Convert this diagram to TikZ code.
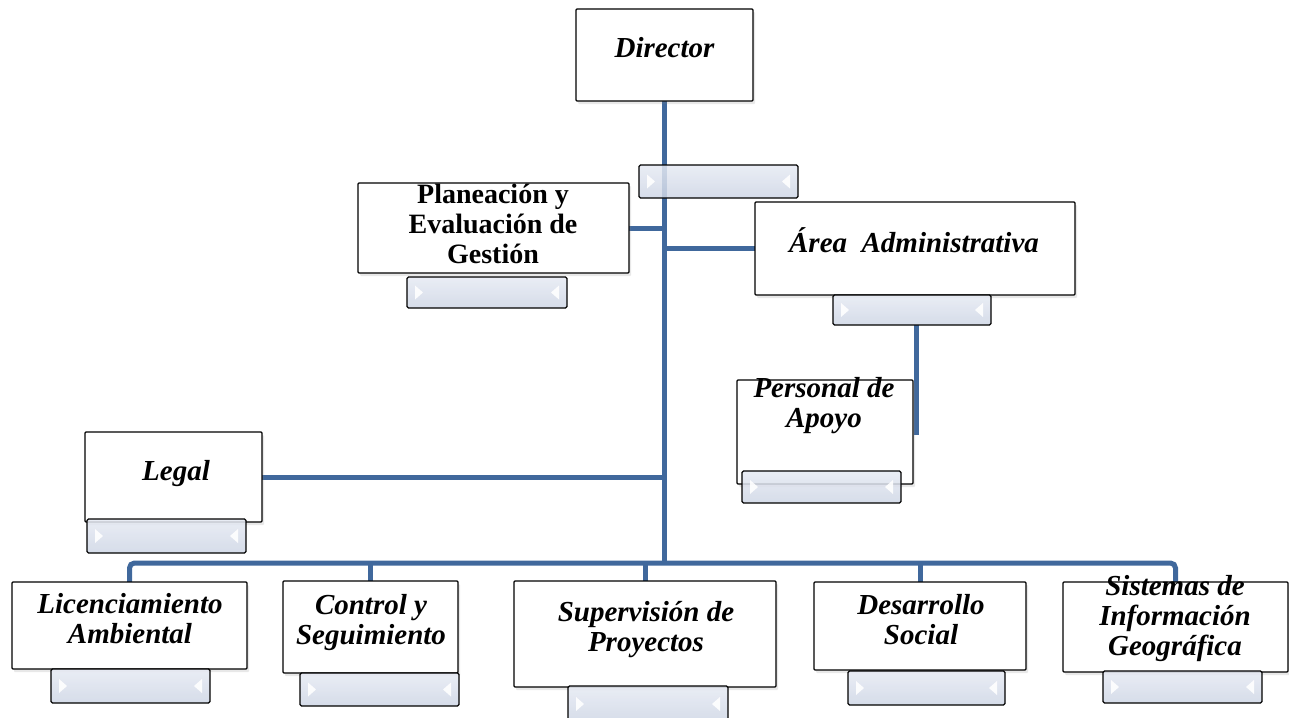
\documentclass[tikz,border=0pt]{standalone}
\usepackage{fontspec}
\setmainfont{Liberation Serif}
\usetikzlibrary{shadows,backgrounds}
\definecolor{linecol}{RGB}{64,104,156}
\definecolor{bartop}{RGB}{230,234,243}
\definecolor{barbot}{RGB}{206,214,229}
\tikzset{
  obox/.style={draw=black, line width=1.3pt, fill=white, rounded corners=1pt,
    inner sep=0pt, outer sep=0pt,
    drop shadow={shadow xshift=2pt, shadow yshift=-3pt, opacity=0.18}},
  ribbonbox/.style={draw=black, line width=1.3pt, top color=bartop, bottom color=barbot,
    rounded corners=1.5pt, inner sep=0pt, outer sep=0pt, fill opacity=0.85},
  conn/.style={draw=linecol, line width=5pt},
  txt/.style={font=\fontsize{29}{30}\selectfont\bfseries\itshape, align=center,
    inner sep=0pt, anchor=base},
  txtup/.style={font=\fontsize{28}{30}\selectfont\bfseries, align=center,
    inner sep=0pt, anchor=base},
}
\newcommand\obox[5]{%
  \node[obox, minimum width={(#4-#2)*1pt}, minimum height={(#5-#3)*1pt}]
    (#1) at ({(#2+#4)/2},{(#3+#5)/2}) {};}
\newcommand\ribbon[5]{%
  \node[ribbonbox, minimum width={(#4-#2)*1pt}, minimum height={(#5-#3)*1pt}]
    (#1) at ({(#2+#4)/2},{(#3+#5)/2}) {};
  \fill[white, opacity=0.9] ([xshift=8pt]#1.west) ++(0,-7) -- ++(8,7) -- ++(-8,7) -- cycle;
  \fill[white, opacity=0.9] ([xshift=-8pt]#1.east) ++(0,-7) -- ++(-8,7) -- ++(8,7) -- cycle;}
\begin{document}
\begin{tikzpicture}[x=1pt, y=-1pt]
\useasboundingbox (0,0) rectangle (1289,717);

% boxes
\obox{dir}{576}{9}{753}{101}
\obox{plan}{358}{183}{629}{273}
\obox{area}{755}{202}{1075}{295}
\obox{pers}{737}{380}{913}{484}
\obox{legal}{85}{432}{262}{522}
\obox{lic}{12}{582}{247}{669}
\obox{ctrl}{283}{581}{458}{673}
\obox{sup}{514}{581}{776}{687}
\obox{des}{814}{582}{1026}{670}
\obox{sig}{1063}{582}{1288}{672}

% ribbons
\ribbon{dirbar}{639}{165}{798}{198}
\ribbon{planbar}{407}{277}{567}{308}
\ribbon{areabar}{833}{295}{991}{325}
\ribbon{persbar}{742}{471}{901}{503}
\ribbon{legalbar}{87}{519}{246}{553}
\ribbon{licbar}{51}{669}{210}{703}
\ribbon{ctrlbar}{300}{673}{459}{706}
\ribbon{supbar}{568}{686}{728}{722}
\ribbon{desbar}{848}{671}{1005}{705}
\ribbon{sigbar}{1103}{671}{1262}{703}

% connectors (behind boxes)
\coordinate (hub) at (664.5,563);
\coordinate (pa) at (916,435);
\begin{scope}[on background layer]
\draw[conn] (dir.south) -- (hub);
\draw[conn] (plan.east) -- (plan.east -| dir.south);
\draw[conn] (area.west) -- (area.west -| dir.south);
\draw[conn] (legal.east) -- (legal.east -| dir.south);
\draw[conn] (areabar.south -| pa) -- (pa);
\draw[conn, rounded corners=5pt] (lic.north) -- (lic.north |- hub) -- (sig.north |- hub) -- (sig.north);
\draw[conn] (ctrl.north) -- (ctrl.north |- hub);
\draw[conn] (sup.north) -- (sup.north |- hub);
\draw[conn] (des.north) -- (des.north |- hub);
\end{scope}

% texts (base = last line baseline)
\node[txt] (tdir) at (664.5,58) {Director};
\node[txtup] (tplan) at (493,263) {Planeación y\\Evaluación de\\Gestión};
\node[txt] (tarea) at (914,252) {Área\ \ Administrativa};
\node[txt] (tpers) at (824,427) {Personal de\\Apoyo};
\node[txt] (tlegal) at (176,480) {Legal};
\node[txt] (tlic) at (130,643) {Licenciamiento\\Ambiental};
\node[txt] (tctrl) at (371,644) {Control y\\Seguimiento};
\node[txt] (tsup) at (646,651) {Supervisión de\\Proyectos};
\node[txt] (tdes) at (921,644) {Desarrollo\\Social};
\node[txt] (tsig) at (1175,655) {Sistemas de\\Información\\Geográfica};
\end{tikzpicture}
\end{document}
